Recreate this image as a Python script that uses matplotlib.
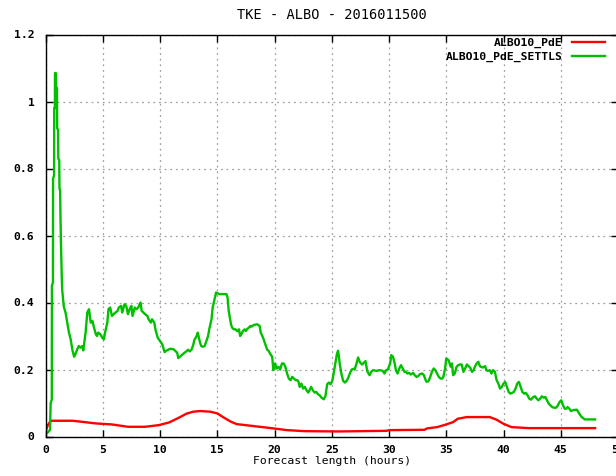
import matplotlib
matplotlib.use("Agg")
import matplotlib.pyplot as plt
from matplotlib.ticker import FuncFormatter

# TKE time series, hours vs value
pde_hours = [0.0, 0.2, 0.4, 0.5, 2.4, 4.4, 5.8, 7.2, 8.7, 9.9, 10.8, 11.7, 12.3, 12.9,
             13.5, 14.4, 15.0, 15.6, 16.2, 16.7, 18.2, 19.7, 21.1, 22.6, 25.5, 29.8,
             30.0, 33.1, 33.3, 34.2, 35.0, 35.6, 36.0, 36.8, 38.8, 39.4, 40.0, 40.7,
             42.2, 48.0]
pde_tke = [0.014, 0.034, 0.044, 0.047, 0.047, 0.039, 0.036, 0.029, 0.029, 0.034, 0.042,
           0.057, 0.068, 0.074, 0.076, 0.074, 0.069, 0.056, 0.044, 0.037, 0.031, 0.025,
           0.019, 0.016, 0.015, 0.017, 0.019, 0.020, 0.024, 0.028, 0.036, 0.043, 0.053,
           0.058, 0.058, 0.050, 0.038, 0.028, 0.025, 0.025]

settls_hours = [
    0.0, 0.2, 0.4, 0.45, 0.55, 0.56, 0.65, 0.66, 0.75, 0.76, 0.82, 0.83, 0.9, 0.92, 1.0,
    1.02, 1.1, 1.12, 1.2, 1.22, 1.28, 1.3, 1.35, 1.42, 1.46, 1.6, 1.75, 1.9, 2.05, 2.2,
    2.35, 2.5, 2.6, 2.77, 2.9, 3.05, 3.2, 3.3, 3.5, 3.65, 3.8, 3.95, 4.1, 4.2, 4.4, 4.5,
    4.6, 4.8, 4.95, 5.1, 5.2, 5.4, 5.5, 5.65, 5.8, 5.95, 6.1, 6.3, 6.4, 6.6, 6.7, 6.9,
    7.05, 7.2, 7.35, 7.5, 7.6, 7.8, 7.95, 8.1, 8.3, 8.4, 8.55, 8.7, 8.9, 9.0, 9.2, 9.3,
    9.5, 9.6, 9.8, 9.9, 10.1, 10.2, 10.4, 10.6, 10.9, 11.2, 11.5, 11.6, 11.8, 12.1,
    12.3, 12.45, 12.6, 12.75, 12.9, 13.0, 13.2, 13.3, 13.4, 13.5, 13.6, 13.75, 13.9,
    14.0, 14.2, 14.3, 14.5, 14.6, 14.8, 14.9, 15.05, 15.2, 15.5, 15.8, 15.9, 16.0, 16.2,
    16.3, 16.45, 16.6, 16.75, 16.9, 17.0, 17.1, 17.25, 17.4, 17.5, 17.6, 17.75, 17.9,
    18.0, 18.2, 18.5, 18.7, 18.8, 19.0, 19.2, 19.35, 19.5, 19.6, 19.8, 19.9, 20.05,
    20.2, 20.35, 20.5, 20.65, 20.8, 20.95, 21.1, 21.25, 21.4, 21.55, 21.7, 21.85, 22.0,
    22.1, 22.2, 22.35, 22.5, 22.65, 22.8, 22.95, 23.05, 23.2, 23.35, 23.5, 23.65, 23.8,
    23.95, 24.1, 24.3, 24.45, 24.6, 24.75, 24.9, 25.05, 25.2, 25.3, 25.45, 25.55, 25.62,
    25.7, 25.85, 26.0, 26.15, 26.3, 26.45, 26.6, 26.75, 26.9, 27.0, 27.15, 27.3, 27.4,
    27.5, 27.65, 27.8, 27.95, 28.1, 28.3, 28.45, 28.6, 28.9, 29.2, 29.45, 29.6, 29.75,
    29.9, 30.1, 30.2, 30.35, 30.5, 30.6, 30.75, 30.9, 31.05, 31.2, 31.35, 31.5, 31.6,
    31.75, 31.9, 32.1, 32.25, 32.4, 32.55, 32.7, 32.9, 33.05, 33.2, 33.3, 33.45, 33.6,
    33.75, 33.9, 34.05, 34.2, 34.35, 34.5, 34.65, 34.75, 34.9, 35.0, 35.2, 35.4, 35.5,
    35.6, 35.75, 35.9, 36.05, 36.2, 36.35, 36.5, 36.65, 36.8, 36.95, 37.1, 37.25, 37.4,
    37.5, 37.65, 37.8, 37.9, 38.0, 38.2, 38.4, 38.5, 38.65, 38.8, 38.95, 39.1, 39.25,
    39.4, 39.55, 39.7, 39.85, 40.0, 40.15, 40.3, 40.45, 40.6, 40.75, 40.9, 41.05, 41.2,
    41.35, 41.5, 41.65, 41.8, 41.95, 42.1, 42.25, 42.4, 42.6, 42.75, 42.9, 43.05, 43.2,
    43.35, 43.5, 43.65, 43.8, 43.95, 44.1, 44.25, 44.4, 44.6, 44.75, 44.9, 45.05, 45.2,
    45.35, 45.5, 45.6, 45.75, 45.9, 46.1, 46.4, 46.8, 47.1, 48.0]
settls_tke = [
    0.010, 0.012, 0.020, 0.100, 0.110, 0.450, 0.460, 0.770, 0.780, 0.980, 0.980, 1.085,
    1.085, 1.045, 1.040, 0.920, 0.915, 0.830, 0.825, 0.740, 0.735, 0.675, 0.578, 0.477,
    0.437, 0.387, 0.370, 0.340, 0.310, 0.290, 0.258, 0.238, 0.245, 0.260, 0.270, 0.265,
    0.270, 0.257, 0.310, 0.370, 0.380, 0.340, 0.345, 0.330, 0.305, 0.300, 0.310, 0.305,
    0.295, 0.290, 0.310, 0.340, 0.380, 0.385, 0.360, 0.365, 0.370, 0.375, 0.385, 0.390,
    0.370, 0.395, 0.390, 0.365, 0.380, 0.390, 0.360, 0.385, 0.380, 0.385, 0.400, 0.375,
    0.370, 0.365, 0.360, 0.350, 0.340, 0.350, 0.340, 0.320, 0.295, 0.290, 0.280, 0.275,
    0.252, 0.257, 0.262, 0.260, 0.250, 0.234, 0.240, 0.249, 0.254, 0.259, 0.254, 0.259,
    0.273, 0.288, 0.300, 0.310, 0.294, 0.280, 0.270, 0.268, 0.270, 0.280, 0.300, 0.320,
    0.350, 0.385, 0.415, 0.430, 0.427, 0.425, 0.425, 0.425, 0.415, 0.375, 0.335, 0.325,
    0.320, 0.320, 0.314, 0.320, 0.300, 0.305, 0.315, 0.320, 0.315, 0.320, 0.325, 0.330,
    0.328, 0.333, 0.335, 0.330, 0.310, 0.295, 0.275, 0.260, 0.255, 0.248, 0.238, 0.198,
    0.218, 0.203, 0.208, 0.200, 0.218, 0.218, 0.208, 0.188, 0.173, 0.168, 0.178, 0.173,
    0.168, 0.168, 0.163, 0.148, 0.158, 0.143, 0.148, 0.138, 0.131, 0.138, 0.148, 0.138,
    0.131, 0.133, 0.126, 0.123, 0.116, 0.111, 0.121, 0.156, 0.161, 0.156, 0.166, 0.196,
    0.216, 0.246, 0.256, 0.240, 0.216, 0.186, 0.166, 0.161, 0.166, 0.176, 0.190, 0.200,
    0.202, 0.200, 0.216, 0.236, 0.226, 0.220, 0.215, 0.220, 0.225, 0.195, 0.183, 0.193,
    0.198, 0.196, 0.198, 0.196, 0.188, 0.198, 0.200, 0.218, 0.243, 0.238, 0.218, 0.198,
    0.188, 0.203, 0.213, 0.203, 0.193, 0.193, 0.188, 0.190, 0.185, 0.190, 0.183, 0.178,
    0.180, 0.186, 0.188, 0.183, 0.168, 0.163, 0.165, 0.178, 0.193, 0.203, 0.198, 0.188,
    0.178, 0.173, 0.173, 0.178, 0.203, 0.233, 0.228, 0.208, 0.218, 0.183, 0.188, 0.208,
    0.213, 0.215, 0.215, 0.193, 0.203, 0.215, 0.210, 0.205, 0.193, 0.198, 0.208, 0.218,
    0.223, 0.213, 0.208, 0.206, 0.210, 0.198, 0.196, 0.198, 0.188, 0.198, 0.193, 0.168,
    0.158, 0.143, 0.148, 0.158, 0.163, 0.148, 0.133, 0.128, 0.130, 0.133, 0.143, 0.158,
    0.163, 0.148, 0.133, 0.128, 0.130, 0.123, 0.113, 0.110, 0.118, 0.120, 0.113, 0.108,
    0.113, 0.120, 0.116, 0.118, 0.108, 0.098, 0.093, 0.088, 0.086, 0.086, 0.093, 0.103,
    0.108, 0.093, 0.083, 0.083, 0.088, 0.083, 0.076, 0.079, 0.080, 0.059, 0.051, 0.051]

xticks = list(range(0, 51, 5))
yticks = [0, 0.2, 0.4, 0.6, 0.8, 1.0, 1.2]

plt.rcParams['font.family'] = ['DejaVu Sans Mono']
plt.rcParams['font.weight'] = 'bold'
plt.rcParams['font.size'] = 8.2

fig = plt.figure(figsize=(6.16, 4.76), dpi=100)
ax = fig.add_axes([45.5 / 616, 39.5 / 476, 572.5 / 616, 402 / 476])

ax.plot(pde_hours, pde_tke, color='#ff0000', lw=1.7, label='ALBO10_PdE')
ax.plot(settls_hours, settls_tke, color='#00c000', lw=1.7, label='ALBO10_PdE_SETTLS')

ax.set_xlim(0, 50)
ax.set_ylim(0, 1.2)
ax.set_xticks(xticks)
ax.set_yticks(yticks)
ax.yaxis.set_major_formatter(FuncFormatter(lambda v, p: '%g' % v))
ax.tick_params(direction='in', top=True, right=True, length=5, width=1)
ax.tick_params(axis='y', pad=8)
ax.tick_params(axis='x', pad=6)
ax.grid(True, color='#a0a0a0', linestyle=(0, (1.5, 3)), lw=0.9)
for s in ax.spines.values():
    s.set_linewidth(1)

ax.set_title('TKE - ALBO - 2016011500', pad=11)
ax.set_xlabel('Forecast length (hours)', labelpad=1)

ax.legend(loc='upper right', bbox_to_anchor=(605 / 616, 1 - 38 / 476),
          bbox_transform=fig.transFigure, frameon=False, markerfirst=False,
          borderaxespad=0, borderpad=0, handlelength=2.9, handletextpad=0.8,
          labelspacing=0.35)

fig.savefig('out.png', dpi=100)
